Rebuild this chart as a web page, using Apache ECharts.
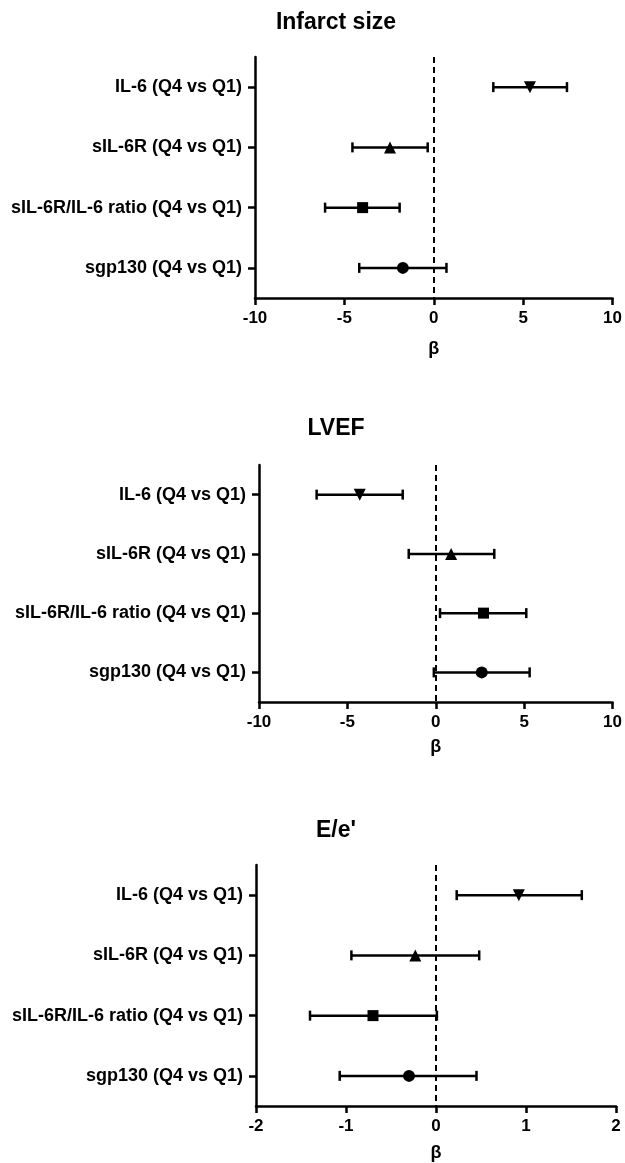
<!DOCTYPE html>
<html>
<head>
<meta charset="utf-8">
<script src="https://cdn.jsdelivr.net/npm/echarts@6/dist/echarts.min.js"></script>
<style>
html,body{margin:0;padding:0;background:#fff;}
#c{width:625px;height:1163px;}
</style>
</head>
<body>
<div id="c"></div>
<script>
// ---- data ----
var categories = ['IL-6 (Q4 vs Q1)', 'sIL-6R (Q4 vs Q1)', 'sIL-6R/IL-6 ratio (Q4 vs Q1)', 'sgp130 (Q4 vs Q1)'];
var panelTitles = ['Infarct size', 'LVEF', "E/e'"];

var infarctEst = [5.38, -2.45, -3.98, -1.73];
var infarctLo  = [3.33, -4.55, -6.08, -4.17];
var infarctHi  = [7.45, -0.34, -1.91, 0.71];

var lvefEst = [-4.30, 0.87, 2.70, 2.60];
var lvefLo  = [-6.74, -1.53, 0.24, -0.11];
var lvefHi  = [-1.87, 3.31, 5.12, 5.31];

var eeEst = [0.92, -0.23, -0.70, -0.30];
var eeLo  = [0.23, -0.94, -1.40, -1.07];
var eeHi  = [1.62, 0.48, 0.01, 0.45];

var xTicks1 = [-10, -5, 0, 5, 10];
var xTicks2 = [-10, -5, 0, 5, 10];
var xTicks3 = [-2, -1, 0, 1, 2];

var markerSymbols = ['triangle', 'triangle', 'rect', 'circle'];
var markerRotate = [180, 0, 0, 0];
var markerSizes = [12, 12, 11, 12];

// ---- layout ----
var FONT = '"Liberation Sans", Arial, sans-serif';
var panels = [
  {est: infarctEst, lo: infarctLo, hi: infarctHi, ticks: xTicks1, grid: {left: 255, top: 57, width: 361, height: 241}, titleY: 23, nameGap: 42},
  {est: lvefEst, lo: lvefLo, hi: lvefHi, ticks: xTicks2, grid: {left: 259, top: 465, width: 358, height: 237}, titleY: 429, nameGap: 36},
  {est: eeEst, lo: eeLo, hi: eeHi, ticks: xTicks3, grid: {left: 256, top: 865, width: 360, height: 241}, titleY: 831, nameGap: 38}
];

var grids = [], xAxes = [], yAxes = [], series = [], graphics = [];

panels.forEach(function (p, i) {
  grids.push(p.grid);
  var tmin = p.ticks[0], tmax = p.ticks[p.ticks.length - 1];
  xAxes.push({
    gridIndex: i, type: 'value', min: tmin, max: tmax, interval: p.ticks[1] - p.ticks[0],
    axisLine: {show: true, onZero: false, lineStyle: {color: '#000', width: 2.5}},
    axisTick: {show: true, inside: false, length: 7, lineStyle: {color: '#000', width: 2.5}},
    splitLine: {show: false},
    axisLabel: {color: '#000', fontFamily: FONT, fontWeight: 'bold', fontSize: 17, margin: 12},
    name: 'β', nameLocation: 'middle', nameGap: p.nameGap,
    nameTextStyle: {color: '#000', fontFamily: FONT, fontWeight: 'bold', fontSize: 18}
  });
  yAxes.push({
    gridIndex: i, type: 'category', data: categories, inverse: true,
    axisLine: {show: true, onZero: false, lineStyle: {color: '#000', width: 2.5}},
    axisTick: {show: true, alignWithLabel: true, length: 7, lineStyle: {color: '#000', width: 2.5}},
    splitLine: {show: false},
    axisLabel: {color: '#000', fontFamily: FONT, fontWeight: 'bold', fontSize: 18, margin: 13}
  });

  var barData = categories.map(function (c, k) { return [p.lo[k], p.hi[k], k]; });
  series.push({
    type: 'custom', xAxisIndex: i, yAxisIndex: i, silent: true,
    data: barData,
    encode: {x: [0, 1], y: 2},
    renderItem: function (params, api) {
      var a = api.coord([api.value(0), api.value(2)]);
      var b = api.coord([api.value(1), api.value(2)]);
      var h = 5;
      var st = {stroke: '#000', lineWidth: 2.5};
      return {
        type: 'group',
        children: [
          {type: 'line', shape: {x1: a[0], y1: a[1], x2: b[0], y2: b[1]}, style: st},
          {type: 'line', shape: {x1: a[0], y1: a[1] - h, x2: a[0], y2: a[1] + h}, style: st},
          {type: 'line', shape: {x1: b[0], y1: b[1] - h, x2: b[0], y2: b[1] + h}, style: st}
        ]
      };
    },
    z: 2
  });

  series.push({
    type: 'scatter', xAxisIndex: i, yAxisIndex: i, silent: true,
    data: categories.map(function (c, k) {
      return {value: [p.est[k], k], symbol: markerSymbols[k], symbolRotate: markerRotate[k], symbolSize: markerSizes[k]};
    }),
    itemStyle: {color: '#000', opacity: 1},
    markLine: {
      silent: true, symbol: ['none', 'none'], label: {show: false},
      lineStyle: {color: '#000', width: 2, type: [6, 4]},
      data: [{xAxis: 0}]
    },
    z: 3
  });

  graphics.push({
    type: 'text', x: 336, y: p.titleY,
    style: {text: panelTitles[i], font: 'bold 23px ' + FONT, fill: '#000', textAlign: 'center', textVerticalAlign: 'middle'}
  });
});

var chart = echarts.init(document.getElementById('c'), null, {renderer: 'canvas'});
chart.setOption({
  animation: false,
  backgroundColor: '#fff',
  grid: grids,
  xAxis: xAxes,
  yAxis: yAxes,
  series: series,
  graphic: graphics
});
</script>
</body>
</html>
